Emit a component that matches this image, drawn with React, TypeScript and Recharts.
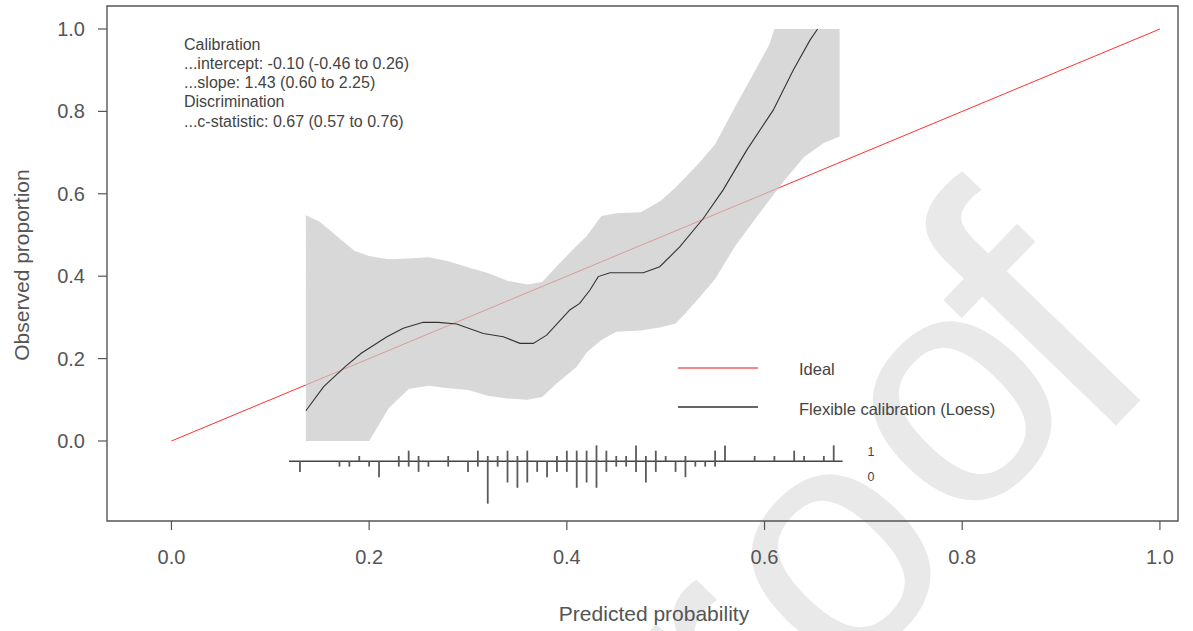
import React from 'react';
import { ComposedChart, Line, Area, XAxis, YAxis, ReferenceLine, ReferenceArea } from 'recharts';

// ---------- data ----------
const xTicks = [0, 0.2, 0.4, 0.6, 0.8, 1.0];
const yTicks = [0, 0.2, 0.4, 0.6, 0.8, 1.0];
const xDomain = [-0.0652, 1.0183];
const yDomain = [-0.1942, 1.0558];

const idealX = [0, 1];
const idealY = [0, 1];

const loessX = [0.136, 0.154, 0.1755, 0.192, 0.218, 0.2345, 0.2547, 0.27, 0.2885, 0.3155, 0.3357, 0.3526, 0.366, 0.3796, 0.403, 0.413, 0.4234, 0.4318, 0.4436, 0.4773, 0.494, 0.5144, 0.538, 0.558, 0.582, 0.6088, 0.629, 0.646, 0.6537];
const loessY = [0.0735, 0.132, 0.18, 0.213, 0.253, 0.2735, 0.288, 0.288, 0.284, 0.261, 0.253, 0.237, 0.237, 0.257, 0.318, 0.334, 0.3665, 0.399, 0.4085, 0.4085, 0.423, 0.4716, 0.54, 0.609, 0.706, 0.803, 0.9, 0.973, 1.0];

const bandX = [0.136, 0.15, 0.165, 0.185, 0.2, 0.21, 0.22, 0.24, 0.26, 0.28, 0.3, 0.32, 0.34, 0.36, 0.375, 0.39, 0.41, 0.42, 0.435, 0.45, 0.475, 0.495, 0.51, 0.52, 0.535, 0.55, 0.57, 0.59, 0.605, 0.61, 0.62, 0.64, 0.66, 0.676];
const bandLower = [0, 0, 0, 0, 0, 0.04, 0.08, 0.126, 0.134, 0.128, 0.124, 0.11, 0.103, 0.1, 0.107, 0.14, 0.18, 0.215, 0.245, 0.265, 0.268, 0.276, 0.285, 0.31, 0.351, 0.393, 0.472, 0.537, 0.585, 0.601, 0.632, 0.689, 0.723, 0.739];
const bandUpper = [0.548, 0.532, 0.502, 0.462, 0.449, 0.445, 0.441, 0.443, 0.446, 0.436, 0.422, 0.408, 0.389, 0.38, 0.386, 0.425, 0.474, 0.497, 0.546, 0.553, 0.555, 0.583, 0.615, 0.64, 0.678, 0.72, 0.81, 0.897, 0.963, 1.0, 1.0, 1.0, 1.0, 1.0];

const spikeX = [0.13, 0.17, 0.18, 0.19, 0.2, 0.21, 0.23, 0.24, 0.25, 0.26, 0.28, 0.3, 0.31, 0.32, 0.33, 0.34, 0.35, 0.36, 0.37, 0.38, 0.39, 0.4, 0.41, 0.42, 0.43, 0.44, 0.45, 0.46, 0.47, 0.48, 0.49, 0.5, 0.51, 0.52, 0.53, 0.54, 0.55, 0.56, 0.59, 0.61, 0.63, 0.64, 0.66, 0.67];
const spikeEvents = [0, 0, 0, 1, 0, 0, 1, 2, 1, 0, 1, 0, 2, 1, 1, 2, 1, 2, 0, 0, 1, 2, 2, 2, 3, 2, 1, 1, 3, 1, 2, 1, 0, 1, 0, 0, 2, 3, 1, 1, 2, 1, 1, 3];
const spikeNonEvents = [2, 1, 1, 0, 1, 3, 1, 1, 2, 1, 1, 2, 1, 8, 1, 4, 5, 4, 2, 3, 2, 2, 5, 4, 5, 2, 1, 1, 2, 4, 2, 0, 2, 3, 1, 1, 1, 0, 0, 0, 0, 0, 0, 0];
const spikeRange = [0.119, 0.679];
const spikeBase = -0.0493;
const spikeUnit = 0.01286;

const annotationLines = [
  'Calibration',
  '...intercept: -0.10 (-0.46 to 0.26)',
  '...slope: 1.43 (0.60 to 2.25)',
  'Discrimination',
  '...c-statistic: 0.67 (0.57 to 0.76)',
];
const legendLabels = ['Ideal', 'Flexible calibration (Loess)'];
const spikeLabels = ['1', '0'];
const xTitle = 'Predicted probability';
const yTitle = 'Observed proportion';
const watermarkLetters = ['r', 'o', 'o', 'f'];

// ---------- derived tables ----------
const idealData = idealX.map((x, i) => ({ x, y: idealY[i] }));
const loessData = loessX.map((x, i) => ({ x, y: loessY[i] }));
const bandData = bandX.map((x, i) => ({ x, band: [bandLower[i], bandUpper[i]] }));

const FONT = '"Liberation Sans", Arial, Helvetica, sans-serif';
const W = 1193;
const H = 631;

// placement of the visible part of the background watermark (layout only)
const wmPos = [
  [797, 752],
  [904, 625],
  [1025, 472],
  [1130, 411],
];
const wmSize = [360, 330, 330, 400];

export default function App() {
  return (
    <div style={{ position: 'absolute', left: 0, top: 0, width: W, height: H, background: '#ffffff', fontFamily: FONT }}>
      <svg width={W} height={H} style={{ position: 'absolute', left: 0, top: 0 }}>
        {watermarkLetters.map((ch, i) => (
          <text
            key={'w' + i}
            x={wmPos[i][0]}
            y={wmPos[i][1]}
            transform={`rotate(-46 ${wmPos[i][0]} ${wmPos[i][1]})`}
            textAnchor="middle"
            fontFamily={FONT}
            fontSize={wmSize[i]}
            fill="#e9e9e9"
          >
            {ch}
          </text>
        ))}
      </svg>
      <div style={{ position: 'absolute', left: 0, top: 0 }}>
        <ComposedChart width={W} height={H} margin={{ top: 6, right: 15, bottom: 0, left: 0 }}>
          <XAxis
            type="number"
            dataKey="x"
            domain={xDomain}
            ticks={xTicks}
            allowDataOverflow
            axisLine={false}
            tickSize={9}
            tickMargin={20}
            height={110}
            tickLine={{ stroke: '#555', strokeWidth: 1.2 }}
            tick={{ fontSize: 20, fill: '#555', fontFamily: FONT }}
            tickFormatter={(v: number) => v.toFixed(1)}
          />
          <YAxis
            type="number"
            domain={yDomain}
            ticks={yTicks}
            allowDataOverflow
            axisLine={false}
            tickSize={9}
            tickMargin={13}
            width={107}
            tickLine={{ stroke: '#555', strokeWidth: 1.2 }}
            tick={{ fontSize: 20, fill: '#555', fontFamily: FONT }}
            tickFormatter={(v: number) => v.toFixed(1)}
          />
          <Line
            data={idealData}
            dataKey="y"
            type="linear"
            stroke="#ff3030"
            strokeWidth={1}
            dot={false}
            isAnimationActive={false}
            zIndex={50}
          />
          <Area
            data={bandData}
            dataKey="band"
            type="linear"
            stroke="none"
            fill="#c8c8c8"
            fillOpacity={0.7}
            isAnimationActive={false}
            zIndex={100}
          />
          <Line
            data={loessData}
            dataKey="y"
            type="linear"
            stroke="#333333"
            strokeWidth={1.1}
            dot={false}
            isAnimationActive={false}
            zIndex={400}
          />
          <ReferenceLine
            segment={[{ x: spikeRange[0], y: spikeBase }, { x: spikeRange[1], y: spikeBase }]}
            stroke="#444"
            strokeWidth={1.6}
            ifOverflow="visible"
          />
          {spikeX.map((p, i) => (
            <ReferenceLine
              key={'s' + i}
              segment={[
                { x: p, y: spikeBase - spikeNonEvents[i] * spikeUnit },
                { x: p, y: spikeBase + spikeEvents[i] * spikeUnit },
              ]}
              stroke="#5a5a5a"
              strokeWidth={1.8}
              ifOverflow="visible"
            />
          ))}
          <ReferenceArea
            x1={xDomain[0]}
            x2={xDomain[1]}
            y1={yDomain[0]}
            y2={yDomain[1]}
            fill="none"
            stroke="#555"
            strokeWidth={1.4}
            ifOverflow="visible"
          />
        </ComposedChart>
      </div>
      <svg width={W} height={H} style={{ position: 'absolute', left: 0, top: 0, pointerEvents: 'none' }}>
        {annotationLines.map((t, i) => (
          <text key={'a' + i} x={184} y={49.5 + i * 19.3} fontSize={16} fill="#444" fontFamily={FONT}>
            {t}
          </text>
        ))}
        <line x1={678} x2={758} y1={368} y2={368} stroke="#f06060" strokeWidth={1.3} />
        <line x1={678} x2={758} y1={407} y2={407} stroke="#333" strokeWidth={1.3} />
        <text x={799} y={374.5} fontSize={16.5} fill="#444" fontFamily={FONT}>{legendLabels[0]}</text>
        <text x={799} y={414.5} fontSize={16.5} fill="#444" fontFamily={FONT}>{legendLabels[1]}</text>
        <text x={871} y={455.5} fontSize={12.5} fill="#444" textAnchor="middle" fontFamily={FONT}>{spikeLabels[0]}</text>
        <text x={871} y={480.5} fontSize={12.5} fill="#444" textAnchor="middle" fontFamily={FONT}>{spikeLabels[1]}</text>
        <text x={654} y={621} fontSize={21} fill="#555" textAnchor="middle" fontFamily={FONT}>{xTitle}</text>
        <text x={29} y={265} fontSize={21} fill="#555" textAnchor="middle" fontFamily={FONT} transform="rotate(-90 29 265)">{yTitle}</text>
      </svg>
    </div>
  );
}
